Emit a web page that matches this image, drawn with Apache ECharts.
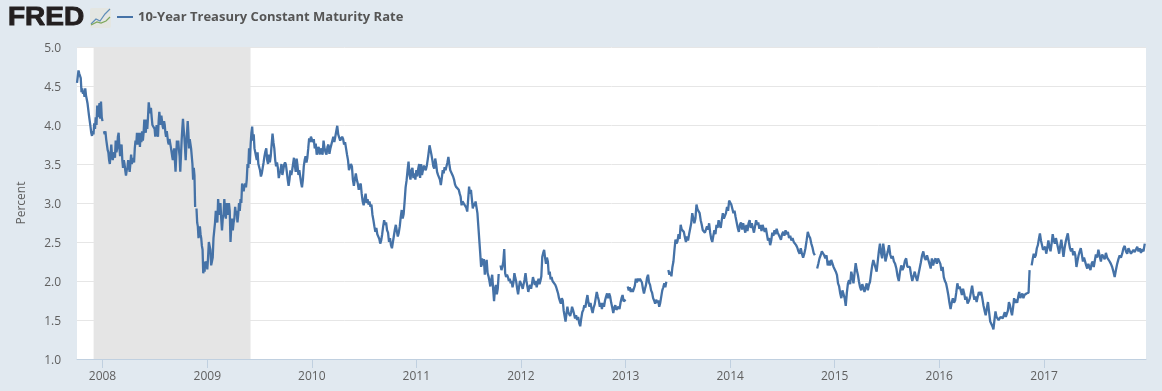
<!DOCTYPE html>
<html><head><meta charset="utf-8">
<style>html,body{margin:0;padding:0;background:#E1E9F0}#c{width:1162px;height:391px}</style>
<script src="https://cdn.jsdelivr.net/npm/echarts@6/dist/echarts.min.js"></script>
</head><body><div id="c"></div>
<script>
var seriesName = '10-Year Treasury Constant Maturity Rate';
var yTicks = {min:1, max:5, step:0.5};
var axisStart = '2007-10-04', axisEnd = '2017-12-23';
var recession = ['2007-12-01','2009-06-01'];

var q4_2007 = [4.54,4.62,4.7,4.66,4.68,4.6,4.42,4.47,4.4,4.44,4.36,4.47,4.38,4.33,4.28,4.2,4.12,4.05,3.98,3.9,3.86,3.92,3.88,4.02,3.95,4.1,4.0,4.25,4.1,4.2,4.28,4.08,4.3,4.1];
var h2008a = [4.05,null,3.92,3.88,3.92,3.82,3.75,3.68,3.65,3.55,3.5,3.62,3.75,3.6,3.55,3.62,3.65,3.58,3.8,3.65,3.7,3.85,3.9,3.72,3.6,3.7,3.75,3.55,3.45,3.55,3.5,3.42,3.35,3.42,3.45,3.55,3.48,3.4,3.5,3.62,3.5,3.58,3.55,3.52,3.7,3.8,3.75,3.9,3.78,3.75,3.9,3.72,3.9,3.78,3.92,3.8,3.9,4.07,3.95,3.9,4.07,3.95,4.1,4.29,4.2,4.15,4.22,4.1,4.0,4.02,4.0];
var h2008b = [3.95,3.85,3.92,4.0,3.88,3.85,4.05,4.17,4.08,4.0,4.12,4.1,3.98,3.95,4.05,4.0,3.9,3.85,3.92,3.85,3.78,3.75,3.82,3.8,3.72,3.7,3.6,3.55,3.65,3.7,3.55,3.4,3.6,3.8,3.72,3.8,3.68,3.6,3.4,3.6,3.8,3.95,4.08,3.95,3.85,3.7,3.55,3.75,3.9,4.05,3.9,3.7,3.82,3.8,3.7,3.72,3.5,3.3,3.45,3.35,2.95,null,2.93,2.75,2.7,2.55,2.62,2.7,2.6,2.55,2.45,2.4,2.1,2.15,2.12,2.25,2.18,2.25];
var h2009a = [2.15,2.3,2.5,2.45,2.4,2.2,2.25,2.3,2.55,2.65,2.75,2.9,2.8,2.75,3.05,2.9,2.85,3.0,2.8,2.65,2.8,2.85,3.05,2.9,2.8,3.0,2.9,2.85,3.0,2.9,2.5,2.7,2.8,2.65,2.75,2.8,2.95,2.85,2.9,2.75,2.85,3.0,2.9,3.05,3.0,3.25,3.2,3.15,3.22,3.25,3.2,3.3,3.5,3.45,3.7,3.5,3.75,3.9,3.98,3.8,3.88,3.7,3.72,3.6,3.55,3.65,3.5];
var h2009b = [3.49,3.42,3.34,3.38,3.45,3.52,3.6,3.66,3.7,3.55,3.5,3.62,3.52,3.6,3.75,3.89,3.78,3.7,3.55,3.47,3.52,3.45,3.32,3.38,3.42,3.5,3.36,3.42,3.49,3.52,3.49,3.4,3.3,3.22,3.3,3.42,3.36,3.42,3.5,3.58,3.48,3.4,3.57,3.48,3.36,3.42,3.34,3.26,3.2,3.3,3.47,3.55,3.6,3.52,3.58,3.7,3.83,3.78,3.85];
var h2010a = [3.85,3.78,3.82,3.7,3.76,3.62,3.68,3.72,3.62,3.7,3.72,3.62,3.8,3.7,3.65,3.62,3.72,3.75,3.63,3.7,3.72,3.68,3.85,3.78,3.85,3.92,3.99,3.88,3.87,3.8,3.82,3.85,3.82,3.75,3.78,3.7,3.62,3.55,3.42,3.4,3.5,3.47,3.3,3.22,3.3,3.38,3.3,3.25,3.17,3.22,3.25,3.12,3.02];
var h2010b = [2.97,3.05,3.12,3.0,3.05,2.98,3.02,2.95,2.98,2.85,2.78,2.7,2.63,2.68,2.6,2.62,2.54,2.48,2.52,2.6,2.7,2.78,2.72,2.75,2.65,2.62,2.5,2.55,2.46,2.42,2.5,2.58,2.66,2.72,2.64,2.57,2.62,2.7,2.82,2.91,2.8,2.86,3.02,3.2,3.29,3.42,3.53,3.36,3.3,3.42,3.45,3.32,3.38,3.3];
var h2011a = [3.42,3.34,3.44,3.5,3.32,3.5,3.36,3.42,3.48,3.46,3.42,3.47,3.55,3.64,3.74,3.68,3.62,3.55,3.47,3.44,3.57,3.5,3.4,3.36,3.38,3.3,3.23,3.32,3.42,3.38,3.46,3.42,3.47,3.52,3.59,3.5,3.42,3.44,3.4,3.34,3.3,3.24,3.21,3.19,3.22,3.17,3.12,3.08,2.97,3.02,3.04,2.98,3.0,2.94,2.89];
var h2011b = [3.05,3.21,3.12,3.17,3.05,2.93,3.0,2.96,3.02,3.0,2.87,2.7,2.53,2.36,2.18,2.29,2.2,2.28,2.08,2.2,2.27,2.1,2.06,2.0,1.93,2.02,2.08,1.9,1.74,1.9,1.95,1.83,1.9,2.09,null,2.2,2.14,2.18,2.25,2.41,2.1,2.05,2.08,2.05,2.0,2.03,1.97,2.0,1.92,1.98,2.1,2.04,1.99,1.9,1.83,1.92,2.0];
var h2012a = [2.0,1.94,1.9,1.96,2.02,2.1,2.0,1.98,1.86,1.92,1.95,1.9,1.97,2.05,2.03,1.95,2.0,1.92,1.98,2.03,1.96,2.0,2.06,2.31,2.36,2.4,2.3,2.22,2.3,2.25,2.08,2.12,2.02,2.05,2.0,2.02,1.98,1.95,1.92,1.88,1.84,1.78,1.74,1.71,1.78,1.75,1.62,1.55,1.48,1.58,1.67,1.6,1.62,1.55,1.6,1.67];
var h2012b = [1.63,1.58,1.52,1.56,1.5,1.54,1.46,1.42,1.52,1.6,1.63,1.69,1.66,1.75,1.82,1.72,1.67,1.72,1.64,1.59,1.66,1.7,1.78,1.86,1.8,1.75,1.67,1.72,1.64,1.72,1.67,1.75,1.8,1.84,1.78,1.84,1.8,1.72,1.66,1.59,1.66,1.69,1.63,1.61,1.67,1.64,1.72,1.78,1.82,1.74,1.76];
var h2013a = [1.76,null,1.93,1.88,1.92,1.86,1.9,1.86,1.9,1.94,2.03,1.98,2.03,2.0,2.03,2.02,1.98,1.9,1.84,1.9,1.95,2.04,2.08,1.98,1.95,1.88,1.85,1.78,1.75,1.71,1.76,1.72,1.75,1.67,1.72,1.8,1.88,1.92,1.97,1.92,1.99,null,2.14,2.08,2.12,2.06,2.18,2.25,2.4,2.53,2.48];
var h2013b = [2.51,2.6,2.54,2.72,2.66,2.68,2.63,2.56,2.5,2.57,2.52,2.6,2.67,2.74,2.87,2.8,2.74,2.8,2.98,2.92,2.9,2.87,2.78,2.72,2.65,2.67,2.62,2.63,2.7,2.66,2.74,2.62,2.54,2.5,2.58,2.65,2.6,2.72,2.68,2.78,2.72,2.68,2.78,2.87,2.8,2.82,2.87,2.95,2.9,3.03];
var h2014a = [3.04,2.98,3.0,2.87,2.9,2.82,2.75,2.68,2.63,2.72,2.75,2.66,2.74,2.68,2.62,2.72,2.64,2.74,2.78,2.68,2.74,2.72,2.62,2.7,2.78,2.72,2.75,2.67,2.72,2.64,2.72,2.67,2.63,2.68,2.6,2.52,2.55,2.46,2.52,2.62,2.58,2.65,2.6,2.67,2.62,2.63,2.56,2.53];
var h2014b = [2.6,2.63,2.58,2.65,2.6,2.63,2.55,2.58,2.52,2.55,2.5,2.52,2.46,2.43,2.38,2.35,2.42,2.35,2.3,2.35,2.42,2.52,2.63,2.58,2.55,2.48,2.43,2.36,2.33,null,2.16,2.22,2.29,2.33,2.38,2.36,2.33,2.29,2.33,2.2,2.26,2.2,2.27,2.25,2.18];
var h2015a = [2.17,2.12,2.08,1.97,1.93,1.84,1.78,1.88,1.86,1.78,1.68,1.85,1.97,2.01,1.96,2.12,2.06,1.97,2.1,2.23,2.14,2.08,1.99,1.92,1.88,1.96,1.97,1.86,1.92,1.97,1.88,1.95,1.99,2.1,2.2,2.27,2.22,2.23,2.12,2.25,2.38,2.48,2.36,2.29,2.48,2.38,2.25];
var h2015b = [2.25,2.38,2.46,2.34,2.29,2.32,2.25,2.22,2.16,2.06,2.0,2.12,2.2,2.14,2.18,2.26,2.29,2.18,2.2,2.18,2.08,2.0,2.06,2.12,2.05,2.0,2.08,2.16,2.24,2.33,2.38,2.3,2.27,2.33,2.31,2.22,2.16,2.29,2.2,2.26,2.29,2.22,2.29];
var h2016a = [2.29,2.22,2.13,2.18,2.05,2.0,1.97,1.9,1.82,1.72,1.64,1.72,1.78,1.72,1.75,1.85,1.97,1.9,1.93,1.88,1.82,1.9,1.84,1.76,1.8,1.71,1.74,1.78,1.86,1.94,1.84,1.76,1.8,1.73,1.8,1.86,1.82,1.86,1.78,1.69,1.62,1.56,1.65,1.73,1.6,1.48];
var h2016b = [1.48,1.42,1.38,1.5,1.61,1.54,1.56,1.5,1.48,1.54,1.56,1.52,1.54,1.6,1.54,1.56,1.62,1.73,1.69,1.62,1.56,1.66,1.78,1.72,1.76,1.72,1.8,1.86,1.78,1.8,1.84,1.78,1.82,1.8,1.84,1.82,1.85,2.14,null,2.2,2.28,2.35,2.3,2.33,2.42,2.46,2.54,2.61,2.52,2.46,2.4];
var h2017a = [2.4,2.44,2.35,2.42,2.52,2.44,2.38,2.48,2.6,2.52,2.48,2.55,2.53,2.42,2.35,2.45,2.53,2.42,2.31,2.42,2.5,2.56,2.61,2.5,2.42,2.38,2.42,2.33,2.38,2.33,2.18,2.26,2.33,2.38,2.42,2.34,2.25,2.3,2.28,2.2,2.16,2.22,2.2,2.14,2.22,2.25,2.18,2.26];
var h2017b = [2.34,2.3,2.4,2.32,2.25,2.34,2.31,2.28,2.36,2.3,2.31,2.25,2.22,2.18,2.12,2.05,2.14,2.22,2.28,2.33,2.3,2.35,2.42,2.45,2.38,2.35,2.42,2.4,2.35,2.33,2.4,2.37,2.35,2.44,2.38,2.42,2.36,2.41,2.38,2.48];

var spans = [
 ['2007-10-04','2008-01-01',q4_2007],['2008-01-01','2008-07-01',h2008a],['2008-07-01','2009-01-01',h2008b],
 ['2009-01-01','2009-07-01',h2009a],['2009-07-01','2010-01-01',h2009b],['2010-01-01','2010-07-01',h2010a],
 ['2010-07-01','2011-01-01',h2010b],['2011-01-01','2011-07-01',h2011a],['2011-07-01','2012-01-01',h2011b],
 ['2012-01-01','2012-07-01',h2012a],['2012-07-01','2013-01-01',h2012b],['2013-01-01','2013-07-01',h2013a],
 ['2013-07-01','2014-01-01',h2013b],['2014-01-01','2014-07-01',h2014a],['2014-07-01','2015-01-01',h2014b],
 ['2015-01-01','2015-07-01',h2015a],['2015-07-01','2016-01-01',h2015b],['2016-01-01','2016-07-01',h2016a],
 ['2016-07-01','2017-01-01',h2016b],['2017-01-01','2017-07-01',h2017a],['2017-07-01','2017-12-23',h2017b]
];
var points = [];
spans.forEach(function(s){
  var a = Date.parse(s[0]), b = Date.parse(s[1]), v = s[2];
  v.forEach(function(y,i){ points.push([a + (b-a)*i/v.length, y]); });
});

var txt = '#606060', font = '"Open Sans", sans-serif';
var chart = echarts.init(document.getElementById('c'), null, {renderer:'canvas'});
chart.setOption({
  animation:false,
  backgroundColor:'#E1E9F0',
  grid:{left:77,right:16,top:47,bottom:32,show:true,backgroundColor:'#fff',borderWidth:0},
  xAxis:{type:'time',min:axisStart,max:axisEnd,splitNumber:10,maxInterval:366*86400000,
    axisLine:{lineStyle:{color:'#C0D0E0',width:1}},
    axisTick:{show:true,length:9,lineStyle:{color:'#C0D0E0'}},
    splitLine:{show:false},
    axisLabel:{color:txt,fontFamily:font,fontSize:12,margin:12,showMinLabel:false,showMaxLabel:false,formatter:'{yyyy}'}},
  yAxis:{type:'value',min:yTicks.min,max:yTicks.max,interval:yTicks.step,name:'Percent',nameLocation:'middle',nameGap:49,
    nameTextStyle:{color:txt,fontFamily:font,fontSize:12},
    axisLine:{show:false},axisTick:{show:false},
    splitLine:{lineStyle:{color:'#E6E6E6',width:1}},
    axisLabel:{margin:16,formatter:function(v){return '{t|'+v.toFixed(1)+'}';},
      rich:{t:{color:txt,fontFamily:font,fontSize:12,padding:[4,0,0,0]}}}},
  series:[{type:'line',name:seriesName,data:points,showSymbol:false,connectNulls:false,smooth:false,
    lineStyle:{color:'#4572A7',width:2.3},itemStyle:{color:'#4572A7'},
    markArea:{silent:true,itemStyle:{color:'#E5E5E5'},data:[[{xAxis:recession[0]},{xAxis:recession[1]}]]}}],
  graphic:[
    {type:'text',x:8,y:18,scaleX:1.12,style:{text:'FRED',font:'900 25px "Liberation Sans", Arial, sans-serif',fill:'#231F20',stroke:'#231F20',lineWidth:0.9,textVerticalAlign:'middle'}},
    {type:'rect',shape:{x:90,y:8,width:21,height:20,r:2},style:{fill:'#E4E6E2'}},
    {type:'polyline',shape:{points:[[91,24],[96,19],[100,21],[105,14],[110,9]]},style:{stroke:'#5F8DB8',lineWidth:1.2,fill:null}},
    {type:'polyline',shape:{points:[[91,25],[97,22],[101,23],[106,21],[110,17]]},style:{stroke:'#7EA75B',lineWidth:1.2,fill:null}},
    {type:'line',shape:{x1:117,y1:17,x2:133,y2:17},style:{stroke:'#4572A7',lineWidth:2}},
    {type:'text',x:138,y:17,style:{text:seriesName,font:'700 13px "Open Sans", sans-serif',fill:'#555',textVerticalAlign:'middle'}}
  ]
});
</script></body></html>
